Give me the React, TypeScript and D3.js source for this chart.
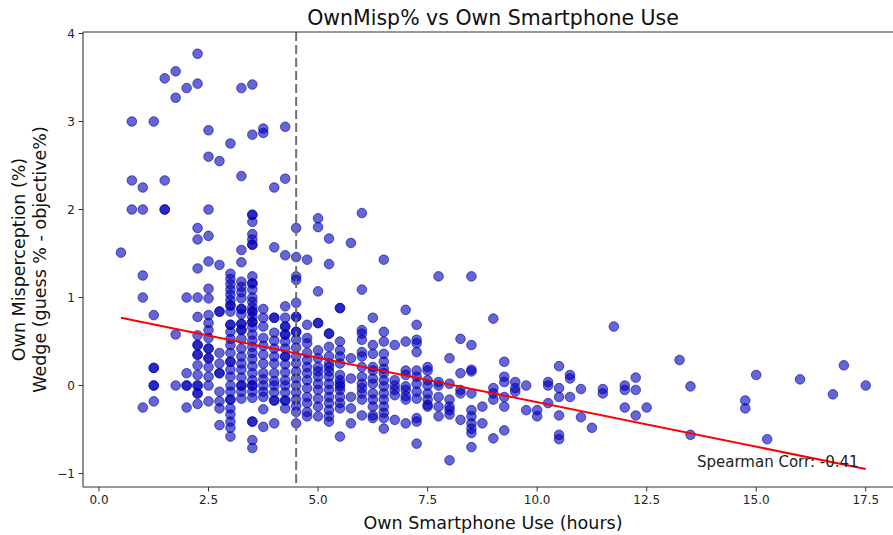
import React from "react";
import * as d3 from "d3";

// Smartphone use (hours) for each column of respondents
const useHours = [
  0.5, 0.75, 1.0, 1.25, 1.5, 1.75, 2.0, 2.25, 2.5, 2.75, 3.0, 3.25, 3.5, 3.75,
  4.0, 4.25, 4.5, 4.75, 5.0, 5.25, 5.5, 5.75, 6.0, 6.25, 6.5, 6.75, 7.0, 7.25,
  7.5, 7.75, 8.0, 8.25, 8.5, 8.75, 9.0, 9.25, 9.5, 9.75, 10.0, 10.25, 10.5,
  10.75, 11.0, 11.25, 11.5, 11.75, 12.0, 12.25, 12.5, 13.25, 13.5, 14.75, 15.0,
  15.25, 16.0, 16.75, 17.0, 17.5,
];

// Own misperception wedge (guess % - objective %) for respondents at each hour value
const mispByHour: number[][] = [
  [1.51],
  [3.0, 2.33, 2.0],
  [2.25, 2.0, 1.25, 1.0, -0.25],
  [3.0, 0.8, 0.2, 0.2, 0.0, 0.0, -0.18],
  [3.49, 2.33, 2.0, 2.0],
  [3.57, 3.27, 0.58, 0.0],
  [3.38, 1.0, 0.14, 0.0, 0.0, -0.25],
  [3.77, 3.43, 1.79, 1.66, 1.33, 1.0, 0.78, 0.57, 0.46, 0.46, 0.35, 0.35, 0.23, 0.12, 0.0, 0.0, -0.09, -0.09, -0.21],
  [2.9, 2.6, 2.0, 1.7, 1.41, 1.1, 0.99, 0.8, 0.71, 0.63, 0.54, 0.42, 0.42, 0.31, 0.31, 0.21, 0.1, 0.0, -0.18],
  [2.55, 1.37, 0.84, 0.84, 0.37, 0.25, 0.14, 0.14, -0.07, -0.18, -0.26, -0.45],
  [2.75, 1.27, 1.21, 1.15, 1.09, 1.03, 0.97, 0.91, 0.91, 0.84, 0.69, 0.69, 0.61, 0.53, 0.46, 0.37, 0.27, 0.27, 0.18, 0.1, 0.0, -0.07, -0.16, -0.16, -0.26, -0.33, -0.41, -0.48, -0.58],
  [3.38, 2.38, 1.54, 1.4, 1.18, 1.12, 1.06, 0.99, 0.87, 0.87, 0.81, 0.7, 0.7, 0.63, 0.63, 0.53, 0.42, 0.33, 0.25, 0.18, 0.09, 0.0, 0.0, -0.07, -0.15],
  [3.42, 2.85, 1.94, 1.94, 1.86, 1.72, 1.66, 1.6, 1.6, 1.24, 1.16, 1.16, 1.09, 1.0, 0.95, 0.89, 0.84, 0.84, 0.78, 0.72, 0.72, 0.66, 0.58, 0.51, 0.44, 0.37, 0.3, 0.22, 0.14, 0.06, 0.0, 0.0, -0.07, -0.14, -0.41, -0.41, -0.62, -0.71],
  [2.92, 2.87, 0.87, 0.77, 0.67, 0.54, 0.45, 0.35, 0.25, 0.14, 0.07, 0.0, -0.07, -0.13, -0.27, -0.47],
  [2.25, 1.57, 0.77, 0.77, 0.6, 0.51, 0.42, 0.33, 0.25, 0.14, 0.05, 0.0, -0.08, -0.17, -0.17, -0.43],
  [2.94, 2.35, 1.48, 0.9, 0.77, 0.67, 0.67, 0.58, 0.58, 0.5, 0.42, 0.33, 0.33, 0.24, 0.15, 0.06, 0.0, -0.08, -0.17, -0.17, -0.26],
  [1.79, 1.46, 1.24, 1.2, 0.94, 0.78, 0.78, 0.61, 0.61, 0.52, 0.43, 0.33, 0.25, 0.16, 0.08, 0.0, -0.08, -0.16, -0.23, -0.3, -0.43],
  [1.43, 0.69, 0.54, 0.48, 0.37, 0.29, 0.21, 0.14, 0.06, -0.03, -0.13, -0.2, -0.3, -0.35],
  [1.9, 1.8, 1.07, 0.71, 0.71, 0.4, 0.31, 0.21, 0.16, 0.1, 0.02, -0.05, -0.15, -0.24, -0.35],
  [1.67, 1.38, 0.59, 0.59, 0.44, 0.33, 0.25, 0.21, 0.16, 0.1, 0.02, -0.05, -0.13, -0.2, -0.28, -0.35, -0.41],
  [0.88, 0.88, 0.5, 0.4, 0.33, 0.25, 0.12, 0.06, 0.02, -0.01, -0.05, -0.13, -0.2, -0.26, -0.58],
  [1.62, 0.31, 0.08, -0.13, -0.26, -0.43],
  [1.96, 1.09, 0.63, 0.59, 0.52, 0.38, 0.33, 0.21, 0.1, 0.02, -0.03, -0.09, -0.16, -0.34],
  [0.77, 0.46, 0.36, 0.21, 0.17, 0.08, 0.02, -0.09, -0.16, -0.24, -0.34, -0.37],
  [1.43, 0.61, 0.5, 0.36, 0.27, 0.19, 0.14, 0.06, -0.01, -0.09, -0.16, -0.24, -0.31, -0.37, -0.49],
  [0.46, 0.06, 0.0, -0.05, -0.11, -0.39],
  [0.86, 0.5, 0.17, 0.12, -0.01, -0.05, -0.12, -0.16, -0.43],
  [0.69, 0.52, 0.48, 0.38, 0.17, 0.1, 0.02, -0.07, -0.15, -0.37, -0.41, -0.66],
  [0.21, 0.17, 0.06, 0.0, -0.09, -0.16, -0.22, -0.24],
  [1.24, 0.04, 0.0, -0.13, -0.24, -0.35],
  [0.31, 0.02, -0.16, -0.24, -0.28, -0.33, -0.85],
  [0.53, 0.14, -0.05, -0.09, -0.39],
  [1.24, 0.46, 0.18, 0.16, -0.09, -0.28, -0.35, -0.43, -0.49, -0.54, -0.7],
  [-0.24, -0.43],
  [0.76, -0.03, -0.09, -0.16, -0.6],
  [0.27, 0.1, 0.04, -0.13, -0.24, -0.51],
  [0.04, -0.03, -0.07],
  [0.0, -0.28],
  [-0.28, -0.35],
  [0.04, 0.0, -0.2],
  [0.22, -0.03, -0.13, -0.34, -0.56, -0.61],
  [0.12, 0.08, -0.13],
  [-0.04, -0.36],
  [-0.48],
  [-0.04, -0.09],
  [0.67],
  [0.0, -0.05, -0.25],
  [0.09, -0.05, -0.34],
  [-0.25],
  [0.29],
  [-0.01, -0.56],
  [-0.17, -0.26],
  [0.12],
  [-0.61],
  [0.07],
  [-0.1],
  [0.23],
  [0.0],
];

const xTickValues = [0, 2.5, 5, 7.5, 10, 12.5, 15, 17.5];
const yTickValues = [-1, 0, 1, 2, 3, 4];

// Linear fit of misperception on hours, and the marker for the median use
const fitIntercept = 0.82;
const fitSlope = -0.101;
const fitRange = [0.5, 17.5];
const medianHours = 4.5;
const spearmanCorr = -0.41;

const W = 893;
const H = 535;
const FONT = "'DejaVu Sans', Verdana, sans-serif";

export default function App() {
  const left = 83;
  const right = 903;
  const top = 32;
  const bottom = 487;

  const x = d3.scaleLinear().domain([-0.365, 18.35]).range([left, right]);
  const y = d3.scaleLinear().domain([-1.153, 4.017]).range([bottom, top]);

  const points = useHours.flatMap((h, i) => mispByHour[i].map((v) => ({ h, v })));

  const fitLine = d3
    .line<number>()
    .x((d) => x(d))
    .y((d) => y(fitIntercept + fitSlope * d));

  const fmtX = d3.format(".1f");
  const fmtY = (v: number) => (v < 0 ? "\u2212" + Math.abs(v) : String(v));

  const pointColor = "rgb(0,0,180)";

  return (
    <svg
      width={W}
      height={H}
      style={{ position: "absolute", left: 0, top: 0, background: "#fff" }}
      fontFamily={FONT}
    >
      <defs>
        <clipPath id="plot-area">
          <rect x={left} y={top} width={right - left} height={bottom - top} />
        </clipPath>
      </defs>
      <rect x={0} y={0} width={W} height={H} fill="#fff" />

      <g clipPath="url(#plot-area)">
        {points.map((p, i) => (
          <circle
            key={i}
            cx={x(p.h)}
            cy={y(p.v)}
            r={4.8}
            fill={pointColor}
            fillOpacity={0.6}
            stroke={pointColor}
            strokeOpacity={0.6}
            strokeWidth={1}
          />
        ))}
        <line
          x1={x(medianHours)}
          x2={x(medianHours)}
          y1={top}
          y2={bottom}
          stroke="#707070"
          strokeWidth={2}
          strokeDasharray="9,4"
        />
        <path d={fitLine(fitRange) || ""} fill="none" stroke="red" strokeWidth={2} />
      </g>

      {/* spines */}
      <line x1={left} x2={left} y1={top} y2={bottom} stroke="#333" strokeWidth={1.1} />
      <line x1={left} x2={W} y1={bottom} y2={bottom} stroke="#333" strokeWidth={1.1} />
      <line x1={left} x2={W} y1={top} y2={top} stroke="#333" strokeWidth={1.1} />

      {/* x axis */}
      {xTickValues.map((t) => (
        <g key={"x" + t}>
          <line x1={x(t)} x2={x(t)} y1={bottom} y2={bottom + 4.5} stroke="#333" strokeWidth={1} />
          <text x={x(t)} y={bottom + 17} textAnchor="middle" fontSize={12} fill="#222">
            {fmtX(t)}
          </text>
        </g>
      ))}
      {/* y axis */}
      {yTickValues.map((t) => (
        <g key={"y" + t}>
          <line x1={left - 4.5} x2={left} y1={y(t)} y2={y(t)} stroke="#333" strokeWidth={1} />
          <text x={left - 8} y={y(t) + 4.3} textAnchor="end" fontSize={12} fill="#222">
            {fmtY(t)}
          </text>
        </g>
      ))}

      <text x={(left + right) / 2} y={25} textAnchor="middle" fontSize={20.5} fill="#111">
        OwnMisp% vs Own Smartphone Use
      </text>
      <text x={(left + right) / 2} y={529} textAnchor="middle" fontSize={17.5} fill="#111">
        Own Smartphone Use (hours)
      </text>
      <g transform={`translate(0, ${(top + bottom) / 2}) rotate(-90)`}>
        <text x={0} y={25} textAnchor="middle" fontSize={17.5} fill="#111">
          Own Misperception (%)
        </text>
        <text x={0} y={46} textAnchor="middle" fontSize={17.5} fill="#111">
          Wedge (guess % - objective%)
        </text>
      </g>

      <text x={697} y={467} fontSize={15} fill="#222">
        {`Spearman Corr: ${spearmanCorr.toFixed(2)}`}
      </text>
    </svg>
  );
}
